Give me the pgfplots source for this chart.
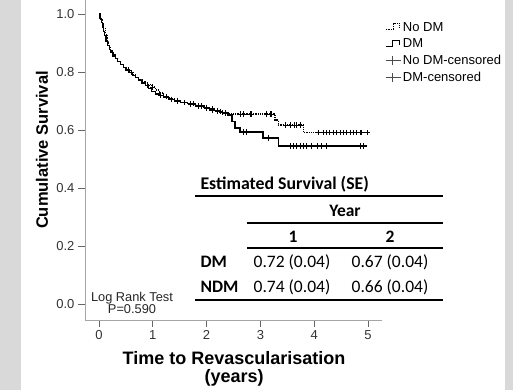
\documentclass[border=0pt]{standalone}
\usepackage{pgfplots}
\usepackage{pgfplotstable}
\pgfplotsset{compat=1.18}
\usepackage{fontspec}
\setmainfont{Liberation Sans}
\newfontfamily\tabfont{Carlito}
\definecolor{bgside}{RGB}{217,217,217}
\definecolor{axgray}{RGB}{165,165,165}

\pgfplotstableread{
t s
0 1.000
0.02 0.985
0.04 0.970
0.06 0.955
0.08 0.940
0.10 0.925
0.13 0.905
0.16 0.890
0.19 0.878
0.22 0.866
0.26 0.855
0.30 0.846
0.35 0.836
0.40 0.826
0.45 0.816
0.50 0.807
0.56 0.798
0.62 0.789
0.68 0.780
0.74 0.771
0.80 0.762
0.86 0.752
0.92 0.742
0.98 0.733
1.05 0.724
1.12 0.718
1.20 0.712
1.30 0.706
1.40 0.700
1.52 0.695
1.65 0.690
1.80 0.684
1.95 0.678
2.05 0.672
2.15 0.666
2.25 0.660
2.40 0.652
2.47 0.628
2.53 0.607
2.62 0.593
3.05 0.572
3.33 0.545
4.98 0.545
}\dmtable

\pgfplotstableread{
t s
0 1.000
0.03 0.980
0.06 0.965
0.09 0.950
0.12 0.930
0.15 0.905
0.18 0.888
0.22 0.872
0.26 0.858
0.30 0.847
0.35 0.836
0.40 0.826
0.45 0.816
0.50 0.807
0.56 0.798
0.62 0.790
0.68 0.782
0.74 0.775
0.80 0.768
0.86 0.762
0.92 0.756
0.98 0.748
1.05 0.738
1.12 0.727
1.20 0.716
1.30 0.708
1.40 0.701
1.52 0.695
1.65 0.689
1.80 0.682
1.95 0.674
2.05 0.668
2.15 0.663
2.30 0.658
2.40 0.655
3.27 0.634
3.33 0.617
3.80 0.590
5.00 0.590
}\ndmtable

\pgfplotstableread{
t s
0.55 0.807
0.90 0.752
1.15 0.718
1.35 0.706
1.45 0.700
1.58 0.695
1.70 0.690
1.75 0.690
1.85 0.684
1.90 0.684
2.00 0.678
2.10 0.672
2.20 0.666
2.30 0.660
2.35 0.660
2.68 0.593
2.74 0.593
3.15 0.572
3.55 0.545
3.61 0.545
3.67 0.545
3.74 0.545
3.80 0.545
3.86 0.545
3.95 0.545
4.05 0.545
4.14 0.545
4.23 0.545
4.85 0.545
4.91 0.545
}\dmcens

\pgfplotstableread{
t s
0.60 0.798
1.00 0.748
1.25 0.716
1.45 0.701
1.58 0.695
1.70 0.689
1.85 0.682
1.90 0.682
2.00 0.674
2.10 0.668
2.20 0.663
2.25 0.663
2.35 0.658
2.62 0.655
2.68 0.655
2.81 0.655
2.84 0.655
3.12 0.655
3.18 0.655
3.21 0.655
3.46 0.617
3.55 0.617
3.64 0.617
3.67 0.617
3.74 0.617
4.08 0.590
4.17 0.590
4.23 0.590
4.29 0.590
4.36 0.590
4.42 0.590
4.48 0.590
4.54 0.590
4.60 0.590
4.67 0.590
4.73 0.590
4.79 0.590
4.85 0.590
4.88 0.590
4.98 0.590
}\ndmcens

\begin{document}
\begin{tikzpicture}
\path[use as bounding box] (0,0) rectangle (513pt,390pt);
\fill[white] (0,0) rectangle (513pt,390pt);
\fill[bgside] (0,0) rectangle (21pt,390pt);
\fill[bgside] (505pt,0) rectangle (513pt,390pt);
\begin{axis}[
  at={(85pt,70pt)}, anchor=south west,
  scale only axis, width=297pt, height=320pt,
  xmin=-0.26, xmax=5.26, ymin=-0.055, ymax=1.048,
  axis x line=bottom, axis y line=left,
  axis line style={axgray, line width=0.9pt, -},
  tick align=outside, major tick length=7pt,
  tick style={black!60, line width=0.8pt},
  xtick={0,1,2,3,4,5},
  ytick={0,0.2,0.4,0.6,0.8,1.0},
  /pgf/number format/assume math mode=true,
  yticklabel style={/pgf/number format/.cd, fixed, fixed zerofill, precision=1},
  tick label style={font=\fontsize{13}{13}\selectfont, text=black!80},
  ylabel={Cumulative Survival},
  ylabel style={at={(axis description cs:-0.145,0.531)}, anchor=center, font=\bfseries\fontsize{16.5}{18}\selectfont},
  xlabel={Time to Revascularisation\\(years)},
  xlabel style={at={(axis description cs:0.502,-0.153)}, anchor=center, align=center, font=\bfseries\fontsize{18}{18}\selectfont},
  legend cell align=left,
  legend style={at={(axis description cs:1.01,0.9375)}, anchor=north west, draw=none, fill=none,
    font=\fontsize{13}{13}\selectfont, row sep=2pt, inner sep=0pt},
]
\addplot[const plot, densely dotted, line width=1.25pt, black,
  legend image code/.code={\draw[densely dotted, line width=0.9pt] (0pt,-2.5pt) -- (8pt,-2.5pt) -- (8pt,3.5pt) -- (14pt,3.5pt) -- (14pt,0pt);}]
  table[x=t, y=s] {\ndmtable};
\addlegendentry{No DM}
\addplot[const plot, line width=1.25pt, black,
  legend image code/.code={\draw[line width=1pt] (0pt,-3pt) -- (7pt,-3pt) -- (7pt,3.5pt) -- (14pt,3.5pt) -- (14pt,-1pt);}]
  table[x=t, y=s] {\dmtable};
\addlegendentry{DM}
\addplot[only marks, mark=+, mark size=2.6pt, mark options={line width=0.8pt, black},
  legend image code/.code={\draw[line width=0.6pt, black!70] (0pt,0pt) -- (15pt,0pt) (7pt,-4.5pt) -- (7pt,4.5pt);}]
  table[x=t, y=s] {\ndmcens};
\addlegendentry{No DM-censored}
\addplot[only marks, mark=+, mark size=2.6pt, mark options={line width=0.8pt, black},
  legend image code/.code={\draw[line width=0.6pt, black!70] (0pt,0pt) -- (15pt,0pt) (7pt,-4.5pt) -- (7pt,4.5pt);}]
  table[x=t, y=s] {\dmcens};
\addlegendentry{DM-censored}
\end{axis}
% Log rank annotation
\node[align=center, font=\fontsize{12.8}{12}\selectfont, text=black!85] at (132pt,87pt) {Log Rank Test\\P=0.590};
% Table
\begin{scope}[every node/.style={font=\tabfont\fontsize{17.5}{19}\selectfont}]
\node[anchor=west, font=\tabfont\bfseries\fontsize{17.8}{19}\selectfont] at (197pt,206pt) {Estimated Survival (SE)};
\draw[line width=1.2pt] (195pt,194pt) -- (443pt,194pt);
\node[font=\tabfont\bfseries\fontsize{17.5}{19}\selectfont] at (345pt,179pt) {Year};
\draw[line width=1.2pt] (247pt,167pt) -- (443pt,167pt);
\node[font=\tabfont\bfseries\fontsize{17.5}{19}\selectfont] at (293pt,153pt) {1};
\node[font=\tabfont\bfseries\fontsize{17.5}{19}\selectfont] at (390pt,153pt) {2};
\draw[line width=1.2pt] (247pt,142pt) -- (443pt,142pt);
\node[anchor=west, font=\tabfont\bfseries\fontsize{17.5}{19}\selectfont] at (197pt,128pt) {DM};
\node at (292pt,128pt) {0.72 (0.04)};
\node at (390pt,128pt) {0.67 (0.04)};
\node[anchor=west, font=\tabfont\bfseries\fontsize{17.5}{19}\selectfont] at (197pt,103pt) {NDM};
\node at (292pt,103pt) {0.74 (0.04)};
\node at (390pt,103pt) {0.66 (0.04)};
\draw[line width=1.2pt] (195pt,90pt) -- (443pt,90pt);
\end{scope}
\end{tikzpicture}
\end{document}
